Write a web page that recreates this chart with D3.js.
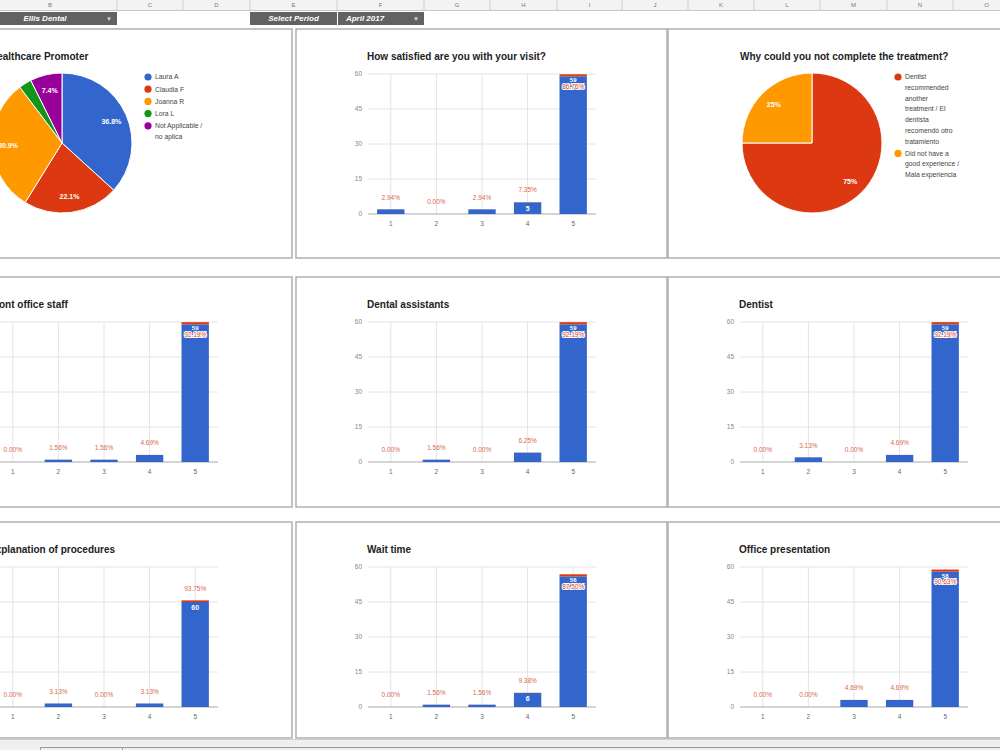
<!DOCTYPE html>
<html><head><meta charset="utf-8">
<script src="https://cdn.jsdelivr.net/npm/d3@7"></script>
<style>
html,body{margin:0;padding:0;background:#fff;overflow:hidden}
svg{display:block;font-family:Arial,"Liberation Sans",sans-serif}
</style></head><body>
<svg id="c" width="1000" height="750"></svg>
<script>
// ---------- data ----------
const columnLetters = ["B","C","D","E","F","G","H","I","J","K","L","M","N","O"];
const clinicName = "Ellis Dental";
const periodLabel = "Select Period";
const periodValue = "April 2017";

const ratingCategories = ["1","2","3","4","5"];
const satisfactionCounts = [2,0,2,5,59];
const frontOfficeCounts = [0,1,1,3,59];
const dentalAssistantCounts = [0,1,0,4,59];
const dentistCounts = [0,2,0,3,59];
const explanationCounts = [0,2,0,2,60];
const waitTimeCounts = [0,1,1,6,56];
const officePresentationCounts = [0,0,3,3,58];
const ticks60 = [0,15,30,45,60];
const ticks80 = [0,20,40,60,80];

const promoterNames = [["Laura A"],["Claudia F"],["Joanna R"],["Lora L"],["Not Applicable /","no aplica"]];
const promoterCounts = [25,15,21,2,5];
const incompleteReasons = [["Dentist","recommended","another","treatment / El","dentista","recomendó otro","tratamiento"],
                           ["Did not have a","good experience /","Mala experiencia"]];
const incompleteCounts = [3,1];

// ---------- layout (not data) ----------
const colWidths = [134,66,67,87,87,66,67,65,66,66,66,67,66,67];
const colStart = -17;
const panelCols = [-82, 296, 668];
const panelRows = [{top:29,h:229},{top:277,h:230},{top:522,h:216}];
const panelW = 372;

const BLUE = "#3366cc", RED = "#dc3912", ORANGE = "#ff9900", GREEN = "#109618", PURPLE = "#990099";
const svg = d3.select("#c");

// ---------- spreadsheet header ----------
svg.append("rect").attr("x",0).attr("y",0).attr("width",1000).attr("height",10).attr("fill","#f3f3f3");
let cx = colStart;
const edges = colWidths.map(w => { const a = cx; cx += w; return [a, cx]; });
svg.selectAll(".colh").data(columnLetters).join("text")
  .attr("x",(d,i)=>(edges[i][0]+edges[i][1])/2).attr("y",5).attr("dy","0.35em")
  .attr("text-anchor","middle").attr("font-size",6).attr("fill","#777").text(d=>d);
svg.selectAll(".cold").data(edges).join("line")
  .attr("x1",d=>d[1]).attr("x2",d=>d[1]).attr("y1",0).attr("y2",10).attr("stroke","#cfcfcf");
svg.append("line").attr("x1",0).attr("x2",1000).attr("y1",10.5).attr("y2",10.5).attr("stroke","#c8c8c8");

function darkCell(x0,x1,label,arrow,cxText){
  svg.append("rect").attr("x",x0).attr("y",12).attr("width",x1-x0).attr("height",13).attr("fill","#626262");
  svg.append("text").attr("x",cxText).attr("y",18.5).attr("dy","0.35em").attr("text-anchor","middle")
    .attr("font-size",8).attr("font-weight","bold").attr("font-style","italic").attr("fill","#fff").text(label);
  if(arrow) svg.append("text").attr("x",x1-8).attr("y",18.5).attr("dy","0.35em").attr("text-anchor","middle")
    .attr("font-size",6).attr("fill","#ddd").text("▼");
}
darkCell(0, edges[0][1], clinicName, true, 45);
darkCell(edges[3][0], edges[3][1], periodLabel, false, (edges[3][0]+edges[3][1])/2);
darkCell(edges[4][0]+1, edges[4][1], periodValue, true, 365);

// ---------- panels ----------
function panel(col,row){
  const x = panelCols[col], r = panelRows[row];
  const g = svg.append("g").attr("transform",`translate(${x},${r.top})`);
  g.append("rect").attr("x",0).attr("y",0).attr("width", col===2 ? 1000 : panelW - (col===0?-2:1)).attr("height",r.h)
    .attr("fill","#fff").attr("stroke","#b4b4b4").attr("stroke-width",1.6);
  return g;
}
function title(g,text,x,y){
  g.append("text").attr("x",x).attr("y",y).attr("dy","0.35em").attr("font-size",10).attr("font-weight","bold")
    .attr("fill","#222").text(text);
}

function barChart(g, name, counts, ticks){
  title(g, name, 71, 27);
  const total = d3.sum(counts);
  const x = d3.scaleBand().domain(ratingCategories).range([72,300]).paddingInner(0.4).paddingOuter(0.2);
  const y = d3.scaleLinear().domain([0, d3.max(ticks)]).range([185,45]);
  g.selectAll(".hg").data(ticks.slice(1)).join("line")
    .attr("x1",72).attr("x2",300).attr("y1",d=>y(d)).attr("y2",d=>y(d)).attr("stroke","#e4e4e4");
  g.selectAll(".vg").data(ratingCategories).join("line")
    .attr("x1",d=>x(d)+x.bandwidth()/2).attr("x2",d=>x(d)+x.bandwidth()/2).attr("y1",45).attr("y2",185).attr("stroke","#e4e4e4");
  g.append("line").attr("x1",72).attr("x2",300).attr("y1",185).attr("y2",185).attr("stroke","#a9a9a9");
  g.selectAll(".yl").data(ticks).join("text").attr("x",66).attr("y",d=>y(d)).attr("dy","0.35em")
    .attr("text-anchor","end").attr("font-size",6.5).attr("fill","#888").text(d=>d);
  g.selectAll(".xl").data(ratingCategories).join("text").attr("x",d=>x(d)+x.bandwidth()/2).attr("y",195).attr("dy","0.35em")
    .attr("text-anchor","middle").attr("font-size",6.5).attr("fill","#666").text(d=>d);
  const rows = counts.map((c,i)=>({cat:ratingCategories[i], c, f:c/total}));
  g.selectAll(".bar").data(rows).join("rect").attr("x",d=>x(d.cat)).attr("width",x.bandwidth())
    .attr("y",d=>y(d.c)).attr("height",d=>y(0)-y(d.c)).attr("fill",BLUE);
  g.selectAll(".pbar").data(rows).join("rect").attr("x",d=>x(d.cat)).attr("width",x.bandwidth())
    .attr("y",d=>y(d.c+d.f)).attr("height",d=>y(d.c)-y(d.c+d.f)).attr("fill",RED);
  rows.forEach(d=>{
    const top = y(d.c+d.f), cxm = x(d.cat)+x.bandwidth()/2;
    const pct = (d.f*100).toFixed(2)+"%";
    const inside = top - 45 < 14;
    if(inside){
      g.append("text").attr("x",cxm).attr("y",top+6).attr("dy","0.35em").attr("text-anchor","middle")
        .attr("font-size",6).attr("font-weight","bold").attr("fill","#fff").text(d.c);
      g.append("text").attr("x",cxm).attr("y",top+12.5).attr("dy","0.35em").attr("text-anchor","middle")
        .attr("font-size",6.5).attr("fill",RED).attr("stroke","#fff").attr("stroke-width",2)
        .attr("paint-order","stroke").text(pct);
    } else {
      g.append("text").attr("x",cxm).attr("y",top-12).attr("dy","0.35em").attr("text-anchor","middle")
        .attr("font-size",6.5).attr("fill","#d9694f").text(pct);
      if(y(0)-y(d.c) >= 11){
        g.append("text").attr("x",cxm).attr("y",y(d.c)+6).attr("dy","0.35em").attr("text-anchor","middle")
          .attr("font-size",7).attr("font-weight","bold").attr("fill","#fff").text(d.c);
      }
    }
  });
}

function pieChart(g, name, labels, counts, colors){
  title(g, name, 72, 27);
  const total = d3.sum(counts);
  const pie = d3.pie().sort(null).value(d=>d)(counts);
  const arc = d3.arc().innerRadius(0).outerRadius(70);
  const lab = d3.arc().innerRadius(54).outerRadius(54);
  const pg = g.append("g").attr("transform","translate(144,114)");
  pg.selectAll("path").data(pie).join("path").attr("d",arc).attr("fill",(d,i)=>colors[i])
    .attr("stroke","#fff").attr("stroke-width",1);
  pg.selectAll(".pl").data(pie.filter(d=>d.value/total>0.05)).join("text")
    .attr("transform",d=>`translate(${lab.centroid(d)})`).attr("dy","0.35em").attr("text-anchor","middle")
    .attr("font-size",7).attr("font-weight","bold").attr("fill","#fff")
    .text(d=>{const p=d.value/total*100; return (Number.isInteger(p)? p.toFixed(0) : p.toFixed(1))+"%";});
  let yy = 48;
  labels.forEach((lines,i)=>{
    g.append("circle").attr("cx",230).attr("cy",yy).attr("r",3.6).attr("fill",colors[i]);
    lines.forEach((ln,j)=>{
      g.append("text").attr("x",237).attr("y",yy + j*10.7).attr("dy","0.35em").attr("font-size",6.8)
        .attr("fill","#444").text(ln);
    });
    yy += (lines.length-1)*10.7 + 12.2;
  });
}

pieChart(panel(0,0), "Healthcare Promoter", promoterNames, promoterCounts, [BLUE,RED,ORANGE,GREEN,PURPLE]);
barChart(panel(1,0), "How satisfied are you with your visit?", satisfactionCounts, ticks60);
pieChart(panel(2,0), "Why could you not complete the treatment?", incompleteReasons, incompleteCounts, [RED,ORANGE]);
barChart(panel(0,1), "Front office staff", frontOfficeCounts, ticks60);
barChart(panel(1,1), "Dental assistants", dentalAssistantCounts, ticks60);
barChart(panel(2,1), "Dentist", dentistCounts, ticks60);
barChart(panel(0,2), "Explanation of procedures", explanationCounts, ticks80);
barChart(panel(1,2), "Wait time", waitTimeCounts, ticks60);
barChart(panel(2,2), "Office presentation", officePresentationCounts, ticks60);

// ---------- bottom sheet bar ----------
svg.append("rect").attr("x",0).attr("y",739).attr("width",1000).attr("height",11).attr("fill","#efefef");
svg.append("line").attr("x1",0).attr("x2",1000).attr("y1",739.5).attr("y2",739.5).attr("stroke","#d0d0d0");
svg.append("line").attr("x1",40).attr("x2",1000).attr("y1",747.5).attr("y2",747.5).attr("stroke","#9a9a9a");
svg.append("line").attr("x1",40.5).attr("x2",40.5).attr("y1",747).attr("y2",750).attr("stroke","#9a9a9a");
svg.append("line").attr("x1",122.5).attr("x2",122.5).attr("y1",747).attr("y2",750).attr("stroke","#9a9a9a");
</script></body></html>
